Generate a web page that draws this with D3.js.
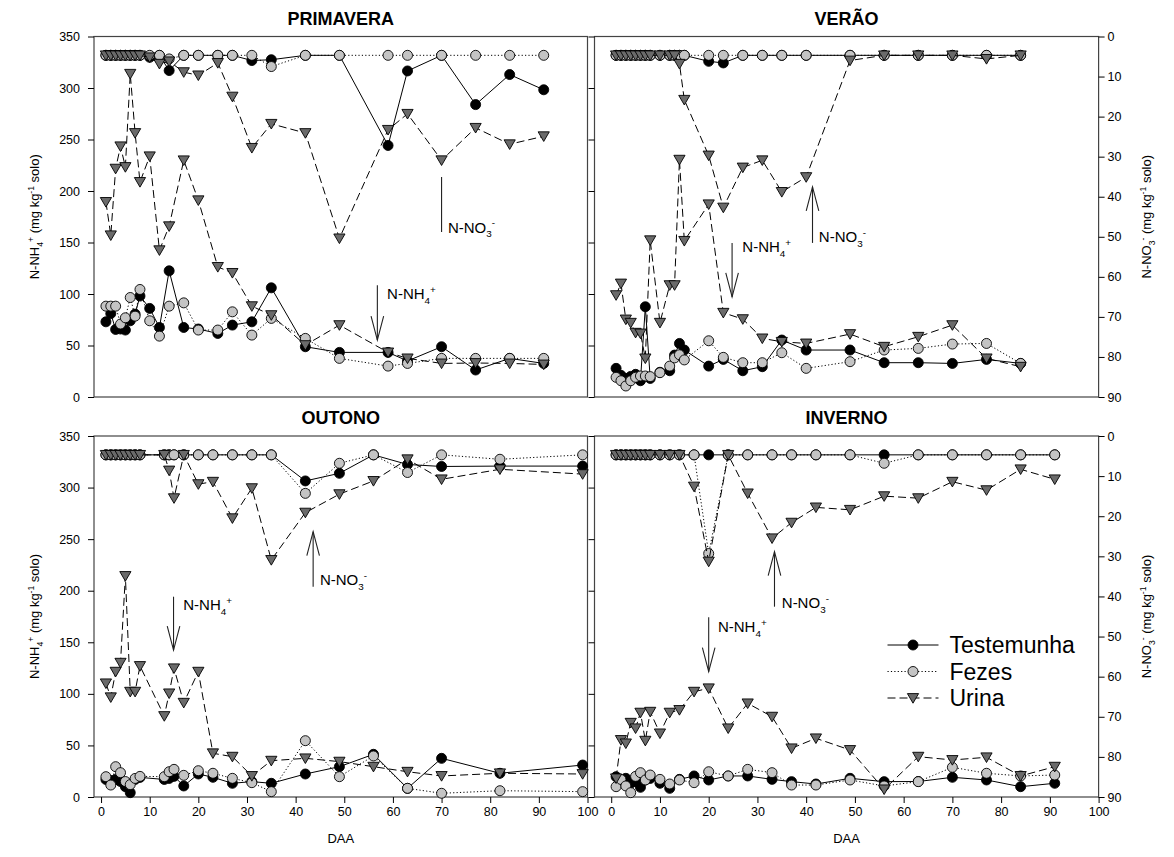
<!DOCTYPE html>
<html>
<head>
<meta charset="utf-8">
<script src="https://cdn.jsdelivr.net/npm/d3@7"></script>
<style>
  body { margin: 0; background: #fff; }
  svg { display: block; }
  text { font-family: Arial, "Liberation Sans", Helvetica, sans-serif; fill: #000; }
</style>
</head>
<body>
<svg id="chart" width="1174" height="857"></svg>
<script>
// ---------- tick values ----------
const ticksNH4 = [0, 50, 100, 150, 200, 250, 300, 350];
const ticksNO3 = [0, 10, 20, 30, 40, 50, 60, 70, 80, 90];
const ticksDAA = [0, 10, 20, 30, 40, 50, 60, 70, 80, 90, 100];
const seriesNames = ["Testemunha", "Fezes", "Urina"];

// ---------- PRIMAVERA ----------
const diasPrimavera = [1, 2, 3, 4, 5, 6, 7, 8, 10, 12, 14, 17, 20, 24, 27, 31, 35, 42, 49, 59, 63, 70, 77, 84, 91];
const nh4TestemunhaPrimavera = [73, 81, 65.6, 66, 65, 74, 80.5, 98, 86, 67.5, 122.5, 67.5, 66, 61.7, 69.8, 73, 106, 48.8, 43.3, 43.3, 35, 48.8, 26.2, 37.5, 32.6];
const nh4FezesPrimavera = [88.2, 88.2, 88.2, 70.8, 76.9, 96.6, 78.5, 104.4, 74, 59.1, 88.2, 91.4, 65, 65, 82.7, 60.1, 76.3, 56.9, 37.5, 30, 32.6, 37.5, 37.5, 37.5, 37.5];
const nh4UrinaPrimavera = [189.4, 157, 221.7, 243.4, 223.3, 313.8, 256.3, 208.8, 233.7, 142.5, 165.8, 229.8, 191, 126.3, 120.5, 88.2, 79.5, 50.4, 69.8, 43.3, 37.5, 32.6, 33, 32.6, 31.6];
const no3TestemunhaPrimavera = [4.7, 4.7, 4.7, 4.7, 4.7, 4.7, 4.7, 4.7, 5.2, 4.7, 8.5, 4.7, 4.7, 4.7, 4.7, 6.0, 5.8, 4.7, 4.7, 27.2, 8.6, 4.7, 17, 9.5, 13.3];
const no3FezesPrimavera = [4.7, 4.7, 4.7, 4.7, 4.7, 4.7, 4.7, 4.7, 4.7, 4.7, 5.6, 4.7, 4.7, 4.7, 4.7, 4.7, 7.5, 4.7, 4.7, 4.7, 4.7, 4.7, 4.7, 4.7, 4.7];
const no3UrinaPrimavera = [4.7, 4.7, 4.7, 4.7, 4.7, 4.7, 4.7, 4.7, 5.2, 6.8, 6.2, 8.9, 9.7, 6.6, 15.0, 27.8, 21.8, 24.1, 50.4, 23.3, 19.3, 30.9, 22.8, 26.9, 24.9];

// ---------- VERÃO ----------
const diasVerao = [1, 2, 3, 4, 5, 6, 7, 8, 10, 12, 13, 14, 15, 20, 23, 27, 31, 35, 40, 49, 56, 63, 70, 77, 84];
const nh4TestemunhaVerao = [27.8, 21, 18, 20, 22, 15.8, 87.6, 18, 24, 25.5, 40.7, 52, 45.6, 30, 36.5, 25.5, 29.4, 55.3, 45.6, 45.6, 33.3, 33.3, 32.6, 36.5, 32.6];
const nh4FezesVerao = [19.1, 15.8, 10.7, 15.8, 19.1, 20.4, 20.4, 19.8, 23.6, 30, 38, 41, 36, 54.6, 38.5, 33.3, 33.3, 43, 27.8, 34.3, 45.6, 47.2, 51.4, 52, 32.6];
const nh4UrinaVerao = [98.9, 110.2, 75.3, 72.1, 62.4, 61.7, 37.5, 152.2, 72.1, 108.6, 108.6, 230.4, 151.6, 187.1, 81.8, 75.6, 56.9, 53.6, 52, 61.1, 48.8, 58.5, 69.8, 37.5, 29.4];
const no3TestemunhaVerao = [4.7, 4.7, 4.7, 4.7, 4.7, 4.7, 4.7, 4.7, 4.7, 4.7, 4.7, 4.7, 4.7, 6.2, 6.6, 4.7, 4.7, 4.7, 4.7, 4.7, 4.7, 4.7, 4.7, 4.7, 4.7];
const no3FezesVerao = [4.7, 4.7, 4.7, 4.7, 4.7, 4.7, 4.7, 4.7, 4.7, 4.7, 4.7, 4.7, 4.7, 4.7, 4.7, 4.7, 4.7, 4.7, 4.7, 4.7, 4.7, 4.7, 4.7, 4.7, 4.7];
const no3UrinaVerao = [4.7, 4.7, 4.7, 4.7, 4.7, 4.7, 4.7, 4.7, 4.7, 4.7, 4.7, 6.8, 15.8, 29.7, 42.7, 32.7, 30.9, 38.8, 35.1, 6.0, 4.7, 4.7, 4.7, 5.6, 4.7];

// ---------- OUTONO ----------
const diasOutono = [1, 2, 3, 4, 5, 6, 7, 8, 13, 14, 15, 17, 20, 23, 27, 31, 35, 42, 49, 56, 63, 70, 82, 99];
const nh4TestemunhaOutono = [17, 16, 17, 15, 10, 4.2, 17, 19, 17, 18, 20, 10.7, 22.3, 19.1, 13.3, 14.9, 13.3, 22.3, 29.4, 41.4, 8.4, 37.5, 23, 31];
const nh4FezesOutono = [19.7, 11.6, 29.4, 23.6, 15, 12, 18, 20, 19.7, 24.5, 26.8, 21, 25.5, 23, 18.1, 13.9, 5.2, 54.6, 19.7, 39.8, 8.4, 3.6, 6.1, 5.2];
const nh4UrinaOutono = [110.2, 96.7, 121.5, 130.2, 214.3, 102.1, 102.1, 127, 78.5, 100.5, 124.8, 91.4, 121.5, 42.4, 39.1, 20.4, 35.2, 37.5, 34.3, 29.4, 24.5, 20.4, 23, 22.3];
const no3TestemunhaOutono = [4.7, 4.7, 4.7, 4.7, 4.7, 4.7, 4.7, 4.7, 4.7, 4.7, 4.7, 4.7, 4.7, 4.7, 4.7, 4.7, 4.7, 11.2, 9.3, 4.7, 7.1, 7.6, 7.5, 7.5];
const no3FezesOutono = [4.7, 4.7, 4.7, 4.7, 4.7, 4.7, 4.7, 4.7, 4.7, 4.7, 4.7, 4.7, 4.7, 4.7, 4.7, 4.7, 4.7, 14.3, 6.8, 4.7, 9.1, 4.7, 5.8, 4.7];
const no3UrinaOutono = [4.7, 4.7, 4.7, 4.7, 4.7, 4.7, 4.7, 4.7, 4.7, 8.6, 15.5, 4.7, 12.0, 11.4, 20.5, 13.0, 30.9, 19.1, 14.5, 11.2, 5.8, 10.8, 8.3, 9.5];

// ---------- INVERNO ----------
const diasInverno = [1, 2, 3, 4, 5, 6, 7, 8, 10, 12, 14, 17, 20, 24, 28, 33, 37, 42, 49, 56, 63, 70, 77, 84, 91];
const nh4TestemunhaInverno = [19.7, 15, 18.1, 13.3, 14.9, 9.4, 16.5, 18, 13.3, 8.4, 17.1, 20.4, 16.5, 20.4, 20.4, 17.1, 14.9, 12.6, 18.1, 14.9, 15, 19.1, 16.5, 10, 13.3];
const nh4FezesInverno = [10, 17, 10.7, 4.2, 20, 23.6, 16.5, 21.3, 17.1, 12.6, 16.5, 13.9, 24.5, 20.4, 26.8, 23.6, 11.6, 11.6, 16.5, 10.7, 14.9, 28.8, 23, 20.4, 21.3];
const nh4UrinaInverno = [18.1, 55.3, 52, 72, 66.6, 81.8, 54.6, 82.7, 61.7, 81.8, 84.4, 102.1, 105.4, 66.6, 90.8, 77.9, 47.2, 56.9, 45.6, 7.4, 39.1, 35.9, 38.5, 20.4, 29.4];
const no3TestemunhaInverno = [4.7, 4.7, 4.7, 4.7, 4.7, 4.7, 4.7, 4.7, 4.7, 4.7, 4.7, 4.7, 4.7, 4.7, 4.7, 4.7, 4.7, 4.7, 4.7, 4.7, 4.7, 4.7, 4.7, 4.7, 4.7];
const no3FezesInverno = [4.7, 4.7, 4.7, 4.7, 4.7, 4.7, 4.7, 4.7, 4.7, 4.7, 4.7, 4.7, 29.3, 4.7, 4.7, 4.7, 4.7, 4.7, 4.7, 6.8, 4.7, 4.7, 4.7, 4.7, 4.7];
const no3UrinaInverno = [4.7, 4.7, 4.7, 4.7, 4.7, 4.7, 4.7, 4.7, 4.7, 4.7, 4.7, 12.6, 31.3, 4.7, 14.3, 25.5, 21.6, 17.8, 18.4, 15, 15.5, 11.4, 13.5, 8.3, 10.8];

// ---------- arrow annotations (DAA, N-NH4+ scale values) ----------
const arrowsPrimavera = [
  { ion: "NO3", x: 70, from: 160.3, to: 213.6, head: false, tx: 71.3, ty: 165 },
  { ion: "NH4", x: 56.8, from: 108.6, to: 55.3, head: true, tx: 58.8, ty: 100.5 }
];
const arrowsVerao = [
  { ion: "NH4", x: 24.8, from: 149.6, to: 97.2, head: true, tx: 26.9, ty: 145.7 },
  { ion: "NO3", x: 41.3, from: 149.6, to: 203.9, head: true, tx: 42.6, ty: 155.7 }
];
const arrowsOutono = [
  { ion: "NH4", x: 14.9, from: 194.2, to: 142.5, head: true, tx: 16.9, ty: 186.2 },
  { ion: "NO3", x: 43.6, from: 203.9, to: 257.2, head: true, tx: 45, ty: 210.4 }
];
const arrowsInverno = [
  { ion: "NH4", x: 20, from: 174.2, to: 121.5, head: true, tx: 21.9, ty: 165.1 },
  { ion: "NO3", x: 33.5, from: 184.5, to: 237.8, head: true, tx: 35, ty: 188.4 }
];

// ---------- panel layout ----------
const cols = [
  { x0: 94, x1: 587.5, xmin: -1.45 },
  { x0: 594.5, x1: 1098.6, xmin: -3.43 }
];
const rows = [
  { y0: 36.5, y1: 397 },
  { y0: 436, y1: 797 }
];

const panels = [
  { title: "PRIMAVERA", col: 0, row: 0, dias: diasPrimavera,
    nh4: [nh4TestemunhaPrimavera, nh4FezesPrimavera, nh4UrinaPrimavera],
    no3: [no3TestemunhaPrimavera, no3FezesPrimavera, no3UrinaPrimavera], arrows: arrowsPrimavera },
  { title: "VERÃO", col: 1, row: 0, dias: diasVerao,
    nh4: [nh4TestemunhaVerao, nh4FezesVerao, nh4UrinaVerao],
    no3: [no3TestemunhaVerao, no3FezesVerao, no3UrinaVerao], arrows: arrowsVerao },
  { title: "OUTONO", col: 0, row: 1, dias: diasOutono,
    nh4: [nh4TestemunhaOutono, nh4FezesOutono, nh4UrinaOutono],
    no3: [no3TestemunhaOutono, no3FezesOutono, no3UrinaOutono], arrows: arrowsOutono },
  { title: "INVERNO", col: 1, row: 1, dias: diasInverno,
    nh4: [nh4TestemunhaInverno, nh4FezesInverno, nh4UrinaInverno],
    no3: [no3TestemunhaInverno, no3FezesInverno, no3UrinaInverno], arrows: arrowsInverno, legend: true }
];

// ---------- styles per treatment ----------
const styles = [
  { dash: null, fill: "#000", shape: "circle" },
  { dash: "1.2,2.2", fill: "#c4c4c4", shape: "circle" },
  { dash: "8,4", fill: "#6a6a6a", shape: "triangle" }
];
const trianglePath = "M-5.6,-4.4L5.6,-4.4L0,5.2Z";

const svg = d3.select("#chart");

function drawMarker(g, shape, fill, cx, cy) {
  if (shape === "circle") {
    g.append("circle").attr("cx", cx).attr("cy", cy).attr("r", 5)
      .attr("fill", fill).attr("stroke", "#000").attr("stroke-width", 0.9);
  } else {
    g.append("path").attr("d", trianglePath)
      .attr("transform", `translate(${cx},${cy})`)
      .attr("fill", fill).attr("stroke", "#000").attr("stroke-width", 0.9);
  }
}

// text with chemical sub/superscripts
function richText(sel, parts, size) {
  let off = 0;
  parts.forEach(p => {
    const target = p.sub ? size * 0.32 : p.sup ? -size * 0.42 : 0;
    sel.append("tspan")
      .attr("dy", target - off)
      .attr("font-size", (p.sub || p.sup) ? size * 0.66 : size)
      .text(p.t);
    off = target;
  });
}
const partsNH4 = [{ t: "N-NH" }, { t: "4", sub: true }, { t: "+", sup: true }];
const partsNO3 = [{ t: "N-NO" }, { t: "3", sub: true }, { t: "-", sup: true }];

panels.forEach(p => {
  const c = cols[p.col], r = rows[p.row];
  const x = d3.scaleLinear().domain([c.xmin, 100]).range([c.x0, c.x1]);
  const yL = d3.scaleLinear().domain([0, 350]).range([r.y1, r.y0]);
  const yR = d3.scaleLinear().domain([0, 90]).range([r.y0, r.y1]);
  const g = svg.append("g");

  // frame
  g.append("rect").attr("x", c.x0).attr("y", r.y0)
    .attr("width", c.x1 - c.x0).attr("height", r.y1 - r.y0)
    .attr("fill", "none").attr("stroke", "#444").attr("stroke-width", 1.2);

  // left (N-NH4+) axis
  const axL = d3.axisLeft(yL).tickValues(ticksNH4).tickSize(6).tickPadding(8).tickSizeOuter(0);
  if (p.col === 1) axL.tickFormat("");
  const gL = g.append("g").attr("transform", `translate(${c.x0},0)`).call(axL);
  gL.select(".domain").remove();
  gL.selectAll("text").attr("font-size", 12.5).attr("font-family", "Arial, 'Liberation Sans', sans-serif");

  // right (N-NO3-) axis
  if (p.col === 1) {
    const axR = d3.axisRight(yR).tickValues(ticksNO3).tickSize(6).tickPadding(3).tickSizeOuter(0);
    const gR = g.append("g").attr("transform", `translate(${c.x1},0)`).call(axR);
    gR.select(".domain").remove();
    gR.selectAll("text").attr("font-size", 12.5).attr("font-family", "Arial, 'Liberation Sans', sans-serif");
  }

  // bottom DAA axis
  if (p.row === 1) {
    const axB = d3.axisBottom(x).tickValues(ticksDAA).tickSize(6).tickPadding(4).tickSizeOuter(0);
    const gB = g.append("g").attr("transform", `translate(0,${r.y1})`).call(axB);
    gB.select(".domain").remove();
    gB.selectAll("text").attr("font-size", 12.5).attr("font-family", "Arial, 'Liberation Sans', sans-serif");
    g.append("text").attr("x", (c.x0 + c.x1) / 2).attr("y", 843)
      .attr("text-anchor", "middle").attr("font-size", 13).text("DAA");
  }

  // title
  g.append("text").attr("x", (c.x0 + c.x1) / 2).attr("y", r.y0 - 12)
    .attr("text-anchor", "middle").attr("font-size", 18).attr("font-weight", "bold")
    .text(p.title);

  // series: N-NH4+ on the left scale, N-NO3- on the reversed right scale
  [[p.nh4, yL], [p.no3, yR]].forEach(([group, ys]) => {
    group.forEach((vals, i) => {
      const st = styles[i];
      const pts = p.dias.map((d, k) => [d, vals[k]]);
      const line = d3.line().x(d => x(d[0])).y(d => ys(d[1]));
      g.append("path").datum(pts).attr("d", line)
        .attr("fill", "none").attr("stroke", "#000").attr("stroke-width", 1)
        .attr("stroke-dasharray", st.dash);
      pts.forEach(d => drawMarker(g, st.shape, st.fill, x(d[0]), ys(d[1])));
    });
  });

  // arrows pointing to the N-NH4+ and N-NO3- curves
  p.arrows.forEach(a => {
    const ax = x(a.x), yf = yL(a.from), yt = yL(a.to);
    g.append("line").attr("x1", ax).attr("x2", ax).attr("y1", yf).attr("y2", yt)
      .attr("stroke", "#222").attr("stroke-width", 1.1);
    if (a.head) {
      const dir = yt > yf ? -1 : 1;
      g.append("path")
        .attr("d", `M${ax - 6.3},${yt + dir * 24}L${ax},${yt}L${ax + 6.3},${yt + dir * 24}`)
        .attr("fill", "none").attr("stroke", "#222").attr("stroke-width", 1.1);
    }
    const t = g.append("text").attr("x", x(a.tx)).attr("y", yL(a.ty) + 5.5);
    richText(t, a.ion === "NH4" ? partsNH4 : partsNO3, 15);
  });

  // legend
  if (p.legend) {
    seriesNames.forEach((name, i) => {
      const st = styles[i];
      const ly = r.y0 + 209 + i * 26.5;
      const lx0 = c.x0 + 293, lx1 = c.x0 + 344;
      g.append("line").attr("x1", lx0).attr("x2", lx1).attr("y1", ly).attr("y2", ly)
        .attr("stroke", "#000").attr("stroke-width", 1).attr("stroke-dasharray", st.dash);
      drawMarker(g, st.shape, st.fill, (lx0 + lx1) / 2, ly);
      g.append("text").attr("x", c.x0 + 355).attr("y", ly + 8.3)
        .attr("font-size", 23).text(name);
    });
  }
});

// y-axis titles
rows.forEach(r => {
  const cy = (r.y0 + r.y1) / 2;
  const tl = svg.append("text").attr("text-anchor", "middle")
    .attr("transform", `translate(39,${cy}) rotate(-90)`);
  richText(tl, [{ t: "N-NH" }, { t: "4", sub: true }, { t: "+", sup: true }, { t: " (mg kg" }, { t: "-1", sup: true }, { t: " solo)" }], 13);
  const tr = svg.append("text").attr("text-anchor", "middle")
    .attr("transform", `translate(1151,${cy}) rotate(-90)`);
  richText(tr, [{ t: "N-NO" }, { t: "3", sub: true }, { t: "-", sup: true }, { t: " (mg kg" }, { t: "-1", sup: true }, { t: " solo)" }], 13);
});
</script>
</body>
</html>
